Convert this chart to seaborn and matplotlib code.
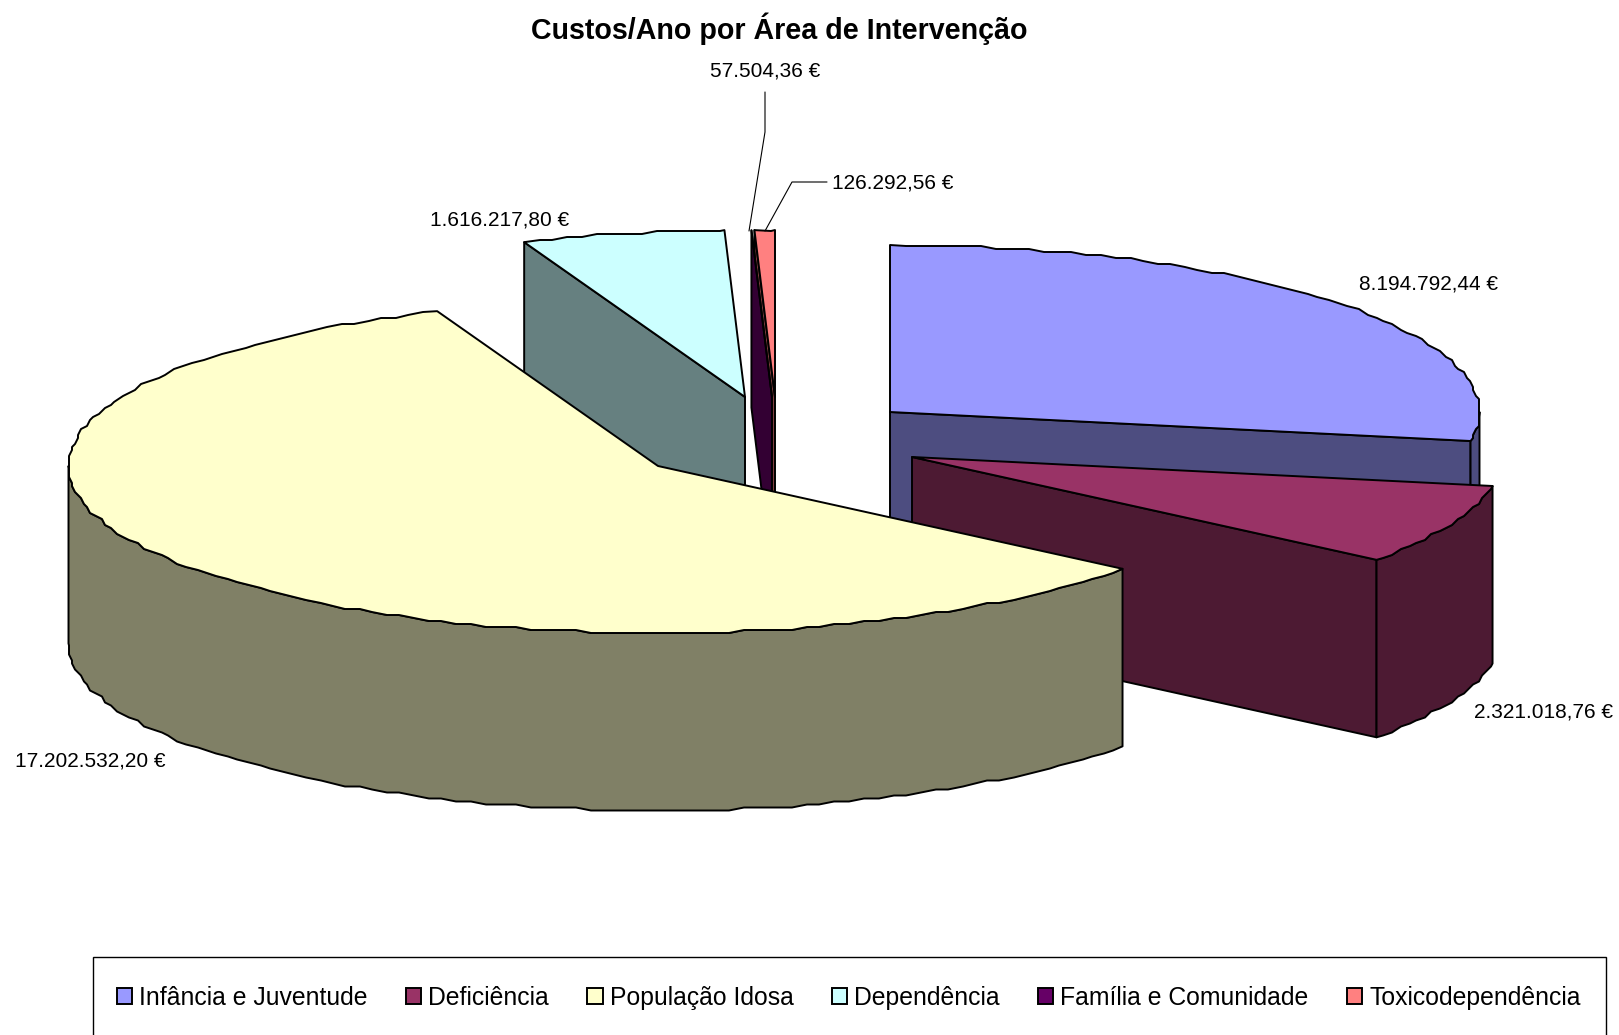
import matplotlib
matplotlib.use('Agg')

import numpy as np
import matplotlib.pyplot as plt
from matplotlib.patches import Patch, Rectangle
import seaborn as sns

# data
areas = ['Infância e Juventude', 'Deficiência', 'População Idosa',
         'Dependência', 'Família e Comunidade', 'Toxicodependência']
custos = [8194792.44, 2321018.76, 17202532.20, 1616217.80, 57504.36, 126292.56]
cores = ['#9999FF', '#993366', '#FFFFCC', '#CCFFFF', '#660066', '#FF8080']

# layout in pixels of the final image
centros = [(890, 412), (912, 457), (658, 466), (745, 397), (772, 397), (775, 397)]
pos_labels = [(1428, 284), (1543, 712), (90, 761), (500, 220), (765, 71), (893, 183)]
ordem = [5, 4, 3, 0, 1, 2]
RX, RY, DEPTH = 589.5, 167, 177.5
SNAP = 3


def rim(cx, cy, ang):
    ang = np.radians(ang)
    x = cx + RX * np.sin(ang)
    y = cy - RY * np.cos(ang)
    return x, y


def arco(cx, cy, a1, a2):
    # rough polyline, the original chart has a wobbly outline
    angs = np.arange(a1, a2, 1.5)
    angs = np.append(angs, a2)
    x, y = rim(cx, cy, angs)
    x[1:-1] = np.round(x[1:-1] / SNAP) * SNAP
    y[1:-1] = np.round(y[1:-1] / SNAP) * SNAP
    return x, y


def moeda(v):
    txt = f'{v:,.2f}'.replace(',', ' ').replace('.', ',').replace(' ', '.')
    return txt + ' €'


sns.set_theme(style='white')
plt.rcParams['font.family'] = ['Liberation Sans', 'DejaVu Sans']

fig = plt.figure(figsize=(16.19, 10.35), dpi=100)
ax = fig.add_axes([0, 0, 1, 1])
ax.set_xlim(0, 1619)
ax.set_ylim(1035, 0)
ax.axis('off')

paleta = sns.color_palette(cores)
escuras = [tuple(c * 0.5 for c in cor) for cor in paleta]

acum = np.cumsum(custos) / np.sum(custos) * 360
# the chart rounds slice angles to whole degrees
limites = np.concatenate([[0], np.round(acum)])

estilo = dict(edgecolor='black', linewidth=1.4, joinstyle='round')

for i in ordem:
    cx, cy = centros[i]
    a1, a2 = limites[i], limites[i + 1]

    # flat walls of the cut
    for ang, visivel in [(a1, -np.sin(np.radians(a1)) > 1e-6),
                         (a2, np.sin(np.radians(a2)) > 1e-6)]:
        if visivel:
            rx, ry = rim(cx, cy, ang)
            ax.fill([cx, rx, rx, cx], [cy, ry, ry + DEPTH, cy + DEPTH],
                    facecolor=escuras[i], **estilo)

    # outer curved wall
    f1, f2 = max(a1, 90), min(a2, 270)
    if f2 > f1:
        x, y = arco(cx, cy, f1, f2)
        ax.fill(np.concatenate([x, x[::-1]]),
                np.concatenate([y, y[::-1] + DEPTH]),
                facecolor=escuras[i], **estilo)

    # top
    x, y = arco(cx, cy, a1, a2)
    ax.fill(np.concatenate([[cx], x]), np.concatenate([[cy], y]),
            facecolor=paleta[i], **estilo)

for v, (x, y) in zip(custos, pos_labels):
    ax.text(x, y, moeda(v), ha='center', va='center', fontsize=15, color='black')

# leader lines
ax.plot([765, 765, 749], [92, 132, 231], color='black', lw=0.8)
ax.plot([827, 792, 765], [182, 182, 231], color='black', lw=0.8)

ax.text(779, 29, 'Custos/Ano por Área de Intervenção', ha='center', va='center',
        fontsize=20.6, fontweight='bold', color='black')

# legend box runs off the bottom of the image
ax.add_patch(Rectangle((93, 957), 1513, 100, facecolor='white', edgecolor='black',
                       linewidth=1.0))

handles = [Patch(facecolor=c, edgecolor='black', linewidth=1.4) for c in paleta]
leg = fig.legend(handles, areas, ncol=6, loc='upper left',
                 bbox_to_anchor=(117 / 1619, 1 - 986 / 1035), borderaxespad=0,
                 fontsize=17.8, frameon=False, borderpad=0, handlelength=0.62,
                 handleheight=0.62, handletextpad=0.28, columnspacing=1.55,
                 labelcolor='black')

plt.savefig('out.png', dpi=100)
plt.close()
